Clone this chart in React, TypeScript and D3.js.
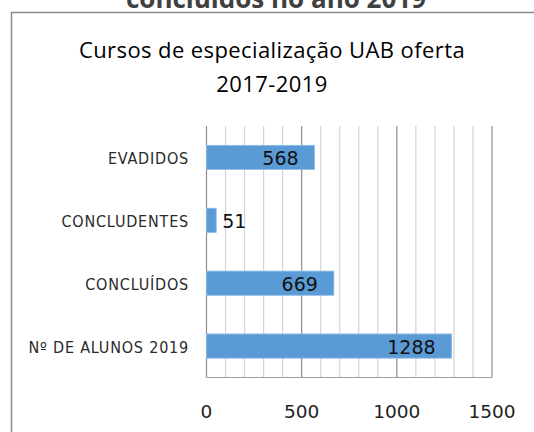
import React, { useEffect, useRef } from "react";
import * as d3 from "d3";

// data
const categories = ["EVADIDOS", "CONCLUDENTES", "CONCLUÍDOS", "Nº DE ALUNOS 2019"];
const values = [568, 51, 669, 1288];
const xTicks = [0, 500, 1000, 1500];

const pageTitle = "concluídos no ano 2019";
const chartTitle = ["Cursos de especialização UAB oferta", "2017-2019"];

export default function App() {
  const ref = useRef<SVGSVGElement>(null);

  useEffect(() => {
    const svg = d3.select(ref.current);
    svg.selectAll("*").remove();

    const width = 534;
    const height = 432;
    const left = 206.5, right = 492, top = 126, bottom = 377.5;

    svg.append("rect").attr("width", width).attr("height", height).attr("fill", "#fff");

    // heading, cut off at the top of the page
    svg.append("text")
      .attr("x", 276).attr("y", 8)
      .attr("text-anchor", "middle")
      .attr("font-family", "Open Sans")
      .attr("font-weight", 700)
      .attr("font-size", 26)
      .attr("fill", "#404040")
      .text(pageTitle);

    // chart frame
    svg.append("rect")
      .attr("x", 11.5).attr("y", 12.5)
      .attr("width", 600).attr("height", 600)
      .attr("fill", "#fff")
      .attr("stroke", "#8a8a8a")
      .attr("stroke-width", 1.5);

    chartTitle.forEach((t, i) => {
      svg.append("text")
        .attr("x", 272).attr("y", 58 + i * 34)
        .attr("text-anchor", "middle")
        .attr("font-family", "Open Sans")
        .attr("font-weight", 500)
        .attr("font-size", 22)
        .attr("letter-spacing", 0.4)
        .attr("fill", "#000")
        .text(t);
    });

    const x = d3.scaleLinear().domain([0, 1500]).range([left, right]);
    const y = d3.scaleBand().domain(categories).range([top, bottom]).paddingInner(0.615).paddingOuter(0.3075);

    // minor grid
    svg.append("g").selectAll("line")
      .data(d3.range(100, 1501, 100).filter((v) => v % 500 !== 0))
      .enter().append("line")
      .attr("x1", (d) => x(d)).attr("x2", (d) => x(d))
      .attr("y1", top).attr("y2", bottom)
      .attr("stroke", "#d4d4d4").attr("stroke-width", 1.2);

    // major grid
    svg.append("g").selectAll("line")
      .data(xTicks)
      .enter().append("line")
      .attr("x1", (d) => x(d)).attr("x2", (d) => x(d))
      .attr("y1", top).attr("y2", bottom)
      .attr("stroke", "#8c8c8c").attr("stroke-width", 1.2);

    svg.append("line")
      .attr("x1", left).attr("x2", right)
      .attr("y1", bottom).attr("y2", bottom)
      .attr("stroke", "#a0a0a0").attr("stroke-width", 1.2);

    // bars
    svg.append("g").selectAll("rect")
      .data(values)
      .enter().append("rect")
      .attr("x", x(0))
      .attr("y", (d, i) => y(categories[i])!)
      .attr("width", (d) => x(d) - x(0))
      .attr("height", y.bandwidth())
      .attr("fill", "#5b9bd5")
      .attr("stroke", "#8fbce6").attr("stroke-width", 0.8);

    // bar labels
    svg.append("g").selectAll("text")
      .data(values)
      .enter().append("text")
      .attr("x", (d) => (d < 200 ? x(d) + 6 : x(d) - 16))
      .attr("y", (d, i) => y(categories[i])! + y.bandwidth() / 2 + 7.5)
      .attr("text-anchor", (d) => (d < 200 ? "start" : "end"))
      .attr("font-family", "DejaVu Sans")
      .attr("font-size", 19)
      .attr("fill", "#111")
      .text((d) => d);

    // category labels
    svg.append("g").selectAll("text")
      .data(categories)
      .enter().append("text")
      .attr("x", 189)
      .attr("y", (d) => y(d)! + y.bandwidth() / 2 + 6.5)
      .attr("text-anchor", "end")
      .attr("font-family", "DejaVu Sans Condensed")
      .attr("font-size", 16)
      .attr("letter-spacing", 0.8)
      .attr("fill", "#2a2a2a")
      .text((d) => d);

    // x tick labels
    svg.append("g").selectAll("text")
      .data(xTicks)
      .enter().append("text")
      .attr("x", (d) => x(d))
      .attr("y", 418)
      .attr("text-anchor", "middle")
      .attr("font-family", "DejaVu Sans")
      .attr("font-size", 18.5)
      .attr("fill", "#222")
      .text((d) => d);
  }, []);

  return (
    <svg ref={ref} width={534} height={432} style={{ position: "absolute", left: 0, top: 0 }} />
  );
}
